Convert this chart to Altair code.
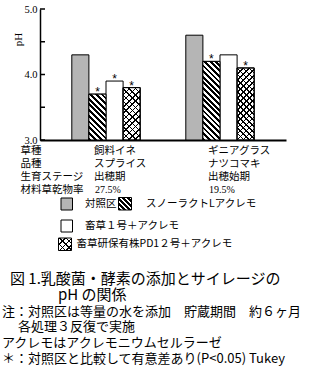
import math
import altair as alt
import pandas as pd

# ---------------- data ----------------
groups = ["飼料イネ", "ギニアグラス"]
kinds = ["対照区", "スノーラクトLアクレモ", "畜草１号＋アクレモ", "畜草研保有株PD1２号＋アクレモ"]
ph_ine = [4.3, 3.7, 3.9, 3.8]
ph_guinea = [4.6, 4.2, 4.3, 4.1]
sig_ine = [False, True, True, True]
sig_guinea = [False, True, False, True]

row_labels = ["草種", "品種", "生育ステージ", "材料草乾物率"]
col_ine = ["飼料イネ", "スプライス", "出穂期", "27.5%"]
col_guinea = ["ギニアグラス", "ナツコマキ", "出穂始期", "19.5%"]

y_ticks = [3.0, 3.5, 4.0, 4.5, 5.0]

caption = [
    "図 1.乳酸菌・酵素の添加とサイレージの",
    "pH の関係",
    "注：対照区は等量の水を添加　貯蔵期間　約６ヶ月",
    "各処理３反復で実施",
    "アクレモはアクレモニウムセルラーゼ",
    "＊：対照区と比較して有意差あり(P<0.05) Tukey",
]

# ---------------- layout ----------------
W, H = 246, 131
PAD = {"left": 40, "top": 9, "right": 25, "bottom": 226}
P_IN, P_OUT = 0.4, 0.279
YMIN, YMAX = 3.0, 5.0
step = W / (len(groups) - P_IN + 2 * P_OUT)
bar_w = step * (1 - P_IN) / len(kinds)

GRAY = "#b5b5b5"
CJK = "Noto Sans CJK JP"
SERIF = "Liberation Serif"

rows = []
for g, vals, sigs in [(groups[0], ph_ine, sig_ine), (groups[1], ph_guinea, sig_guinea)]:
    for k, v, s in zip(kinds, vals, sigs):
        rows.append({"group": g, "kind": k, "ph": v, "sig": s})
bars_df = pd.DataFrame(rows)


def stripes(w, h, period, frac, direction, fg="black", bg="white"):
    d = (w + h) / math.sqrt(2)
    n = max(1, round(d / period))
    c = (w + h) / (w * w + h * h)
    if direction == "back":
        x1, y1, x2, y2 = 0, 1, c * w, 1 - c * h
    else:
        x1, y1, x2, y2 = 0, 0, c * w, c * h
    stops = []
    for i in range(n):
        a, b, e = i / n, (i + frac) / n, (i + 1) / n
        stops += [
            {"offset": a, "color": fg},
            {"offset": b, "color": fg},
            {"offset": b, "color": bg},
            {"offset": min(e, 1.0), "color": bg},
        ]
    return {"gradient": "linear", "x1": x1, "y1": y1, "x2": x2, "y2": y2, "stops": stops}


CLEAR = "rgba(255,255,255,0)"

xs = alt.X("group:N", sort=groups, axis=alt.Axis(labels=False, ticks=False, title=None,
                                                  domainColor="black", domainWidth=2),
           scale=alt.Scale(paddingInner=P_IN, paddingOuter=P_OUT))
xo = alt.XOffset("kind:N", sort=kinds, scale=alt.Scale(paddingInner=0, paddingOuter=0))
ys = alt.Y("ph:Q", scale=alt.Scale(domain=[YMIN, YMAX], nice=False, zero=False),
           axis=alt.Axis(values=y_ticks, ticks=False, grid=False,
                         labelExpr="abs(datum.value - round(datum.value)) < 0.01 ? format(datum.value, '.1f') : ''",
                         labelFont=SERIF, labelFontSize=10.5, labelColor="black", labelPadding=3,
                         domainColor="black", domainWidth=1.5,
                         title="pH", titleFont=SERIF, titleFontSize=11, titleFontWeight="normal",
                         titleColor="black", titleAngle=270, titleX=-22, titleY=30,
                         titleAlign="center", titleBaseline="middle"))
y2b = alt.datum(YMIN)

base = alt.Chart(bars_df)
layers = []

layers.append(base.mark_bar(stroke="black", strokeWidth=1).encode(
    x=xs, xOffset=xo, y=ys, y2=y2b,
    fill=alt.condition(alt.datum.kind == kinds[0], alt.value(GRAY), alt.value("white"))))

for g, vals in [(groups[0], ph_ine), (groups[1], ph_guinea)]:
    for ki, k in enumerate(kinds):
        v = vals[ki]
        h = (v - YMIN) / (YMAX - YMIN) * H
        flt = (alt.datum.group == g) & (alt.datum.kind == k)
        if ki == 1:
            layers.append(base.transform_filter(flt).mark_bar(
                fill=stripes(bar_w, h, 4.0, 0.5, "back"), stroke="black", strokeWidth=1
            ).encode(x=xs, xOffset=xo, y=ys, y2=y2b))
        elif ki == 3:
            for dirn in ["back", "fwd"]:
                layers.append(base.transform_filter(flt).mark_bar(
                    fill=stripes(bar_w, h, 4.3, 0.25, dirn, "black", CLEAR), strokeWidth=0
                ).encode(x=xs, xOffset=xo, y=ys, y2=y2b))
            layers.append(base.transform_filter(flt).mark_bar(
                fill=CLEAR, stroke="black", strokeWidth=1).encode(x=xs, xOffset=xo, y=ys, y2=y2b))

layers.append(base.transform_filter(alt.datum.sig).mark_text(
    text="*", font="Liberation Sans", fontSize=12, baseline="alphabetic", dy=2, color="black"
).encode(x=xs, xOffset=xo, y=ys))

tick_df = pd.DataFrame({"ph": y_ticks})
layers.append(alt.Chart(tick_df).mark_rule(color="black", strokeWidth=1.5).encode(
    y=ys, x=alt.value(0), x2=alt.value(5)))

row_y = [141.5, 154.5, 168, 181]
for i, lab in enumerate(row_labels):
    layers.append(alt.Chart(pd.DataFrame({"t": [lab]})).mark_text(
        font=CJK, fontSize=10.5, align="left", baseline="middle", color="black"
    ).encode(text="t:N", x=alt.value(-19.5), y=alt.value(row_y[i])))
    tdf = pd.DataFrame({"group": groups, "t": [col_ine[i], col_guinea[i]]})
    is_num = i == 3
    layers.append(alt.Chart(tdf).mark_text(
        font=SERIF if is_num else CJK, fontSize=10 if is_num else 10.5,
        align="left", baseline="middle", dx=-11 if is_num else -12, color="black"
    ).encode(text="t:N", x=xs, y=alt.value(row_y[i])))

sw = [
    (21, 32.5, 189, 201, GRAY, None, 45, 195),
    (78.5, 91.5, 188.5, 201, "white", "hatch", 106, 195),
    (21, 32.5, 211, 223, "white", None, 45, 217),
    (18.5, 31.5, 229, 241.5, "white", "cross", 36.5, 235),
]
for ki, (x1, x2, y1, y2, col, pat, tx, ty) in enumerate(sw):
    one = alt.Chart(pd.DataFrame({"k": [kinds[ki]]}))
    enc = dict(x=alt.value(x1), x2=alt.value(x2), y=alt.value(y1), y2=alt.value(y2))
    if pat == "hatch":
        layers.append(one.mark_rect(fill=stripes(x2 - x1, y2 - y1, 4.0, 0.5, "back"),
                                    stroke="black", strokeWidth=1).encode(**enc))
    else:
        layers.append(one.mark_rect(fill=col, stroke="black", strokeWidth=1).encode(**enc))
        if pat == "cross":
            for dirn in ["back", "fwd"]:
                layers.append(one.mark_rect(
                    fill=stripes(x2 - x1, y2 - y1, 4.6, 0.22, dirn, "black", CLEAR),
                    strokeWidth=0).encode(**enc))
    layers.append(one.mark_text(font=CJK, fontSize=10.5, align="left", baseline="middle",
                                color="black").encode(text="k:N", x=alt.value(tx), y=alt.value(ty)))

cap_pos = [(-30, 270, 15), (18, 286, 15), (-38, 303, 13), (-22, 318, 13),
           (-38, 334, 13), (-38, 350, 13)]
for line, (cx, cy, fs) in zip(caption, cap_pos):
    layers.append(alt.Chart(pd.DataFrame({"t": [line]})).mark_text(
        font=CJK, fontSize=fs, align="left", baseline="middle", color="black"
    ).encode(text="t:N", x=alt.value(cx), y=alt.value(cy)))

chart = alt.layer(*layers).properties(
    width=W, height=H, padding=PAD, autosize=alt.AutoSizeParams(type="none"),
    background="white"
).configure_view(stroke=None)

chart.save("out.html", embed_options={"renderer": "svg", "actions": False})
